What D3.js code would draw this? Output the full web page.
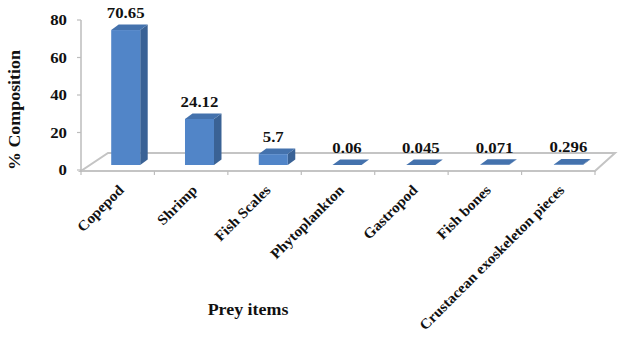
<!DOCTYPE html>
<html>
<head>
<meta charset="utf-8">
<script src="https://cdn.jsdelivr.net/npm/d3@7"></script>
<style>
  body { margin: 0; background: #fff; }
</style>
</head>
<body>
<svg id="chart" width="618" height="347" font-family="'Liberation Serif', 'Times New Roman', Times, serif" font-weight="bold"></svg>
<script>
const categories = ['Copepod', 'Shrimp', 'Fish Scales', 'Phytoplankton', 'Gastropod', 'Fish bones', 'Crustacean exoskeleton pieces']
const values = [70.65, 24.12, 5.7, 0.06, 0.045, 0.071, 0.296]
const valueLabels = ['70.65', '24.12', '5.7', '0.06', '0.045', '0.071', '0.296']
const yTicks = [0, 20, 40, 60, 80]

const svg = d3.select('#chart')
const stretch = 1.12

// front plane of the axis and bars sitting a bit inside the floor
const x = d3.scaleBand().domain(categories).range([81, 595]).padding(0)
const yAxisScale = d3.scaleLinear().domain([0, 80]).range([170, 20])
const yBar = d3.scaleLinear().domain([0, 80]).range([165, 165 - 80 * 1.91])

const barW = 29
const depth = { dx: 7.5, dy: -5.5 }
const faceX = (d, i) => x(d) + x.bandwidth() / 2 + 8 + i * 0.35 - barW / 2

// floor
svg.append('path')
  .attr('d', 'M81,171 L595,171 L615,153 L108,153 Z')
  .attr('fill', '#fff')
  .attr('stroke', '#c4c4c4')
  .attr('stroke-width', 2)

// y axis line + ticks
svg.append('line')
  .attr('x1', 81).attr('x2', 81)
  .attr('y1', yAxisScale(80)).attr('y2', 172)
  .attr('stroke', '#bdbdbd').attr('stroke-width', 1.5)

const yt = svg.append('g')
yt.selectAll('line').data(yTicks).enter().append('line')
  .attr('x1', 77).attr('x2', 81)
  .attr('y1', d => yAxisScale(d)).attr('y2', d => yAxisScale(d))
  .attr('stroke', '#bdbdbd').attr('stroke-width', 1.2)
yt.selectAll('text').data(yTicks).enter().append('text')
  .attr('text-anchor', 'end')
  .attr('font-size', 15)
  .attr('fill', '#111')
  .attr('transform', d => `translate(67,${yAxisScale(d) + 5}) scale(${stretch},1)`)
  .text(d => d)

// x ticks at band edges
const edges = categories.map(c => x(c)).concat([x.range()[1]])
svg.append('g').selectAll('line').data(edges).enter().append('line')
  .attr('x1', d => d).attr('x2', d => d)
  .attr('y1', 171).attr('y2', 175)
  .attr('stroke', '#bdbdbd').attr('stroke-width', 1.2)

// 3d bars
const bars = svg.append('g').selectAll('g')
    .data(categories)
  .enter().append('g')

bars.append('path') // side
  .attr('d', (d, i) => {
    const x1 = faceX(d, i) + barW, y0 = yBar(0), y1 = yBar(values[i])
    return `M${x1},${y0} L${x1 + depth.dx},${y0 + depth.dy} L${x1 + depth.dx},${y1 + depth.dy} L${x1},${y1} Z`
  })
  .attr('fill', '#3a6295')

bars.append('rect') // front
  .attr('x', (d, i) => faceX(d, i))
  .attr('y', (d, i) => yBar(values[i]))
  .attr('width', barW)
  .attr('height', (d, i) => yBar(0) - yBar(values[i]))
  .attr('fill', '#5185c8')

bars.append('path') // top
  .attr('d', (d, i) => {
    const x0 = faceX(d, i), y1 = yBar(values[i])
    return `M${x0},${y1} L${x0 + barW},${y1} L${x0 + barW + depth.dx},${y1 + depth.dy} L${x0 + depth.dx},${y1 + depth.dy} Z`
  })
  .attr('fill', '#4472ad')

bars.append('text')
  .attr('text-anchor', 'middle')
  .attr('font-size', 15)
  .attr('fill', '#111')
  .attr('transform', (d, i) => `translate(${faceX(d, i) + barW / 2},${yBar(values[i]) + depth.dy - 6.5}) scale(${stretch},1)`)
  .text((d, i) => valueLabels[i])

// category labels
svg.append('g').selectAll('text').data(categories).enter().append('text')
  .attr('text-anchor', 'end')
  .attr('font-size', 14.5)
  .attr('fill', '#111')
  .attr('transform', d => `translate(${x(d) + x.bandwidth() / 2 + 7},191) rotate(-45) scale(1.06,1)`)
  .text(d => d)

// axis titles
svg.append('text')
  .attr('text-anchor', 'middle')
  .attr('font-size', 16)
  .attr('fill', '#111')
  .attr('transform', `translate(248,315) scale(${stretch},1)`)
  .text('Prey items')

svg.append('text')
  .attr('text-anchor', 'middle')
  .attr('font-size', 16)
  .attr('fill', '#111')
  .attr('transform', `translate(20,110) rotate(-90) scale(${stretch},1)`)
  .text('% Composition')
</script>
</body>
</html>
